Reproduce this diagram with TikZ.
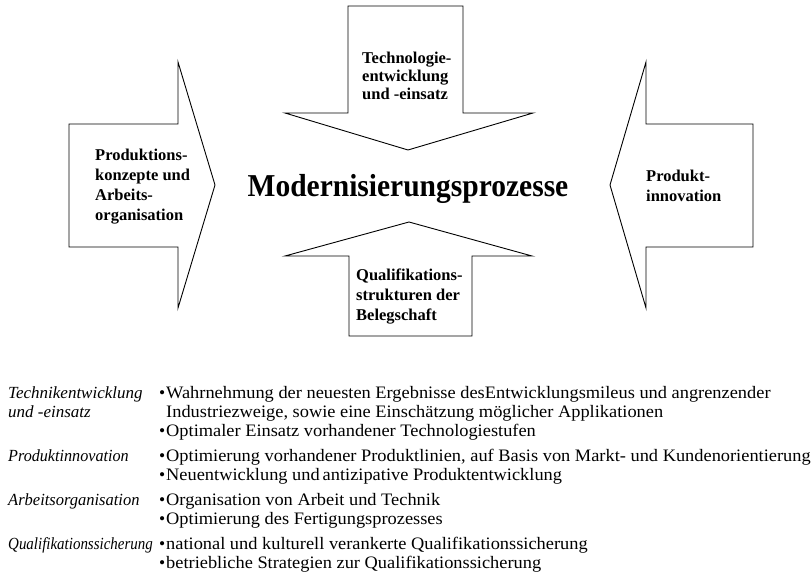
\documentclass[tikz,border=0pt]{standalone}
\usepackage{fontspec}
\usepackage{graphicx}
\setmainfont{Liberation Serif}
\newfontfamily\widserif[FakeStretch=1.05]{Liberation Serif}
\begin{document}
\begin{tikzpicture}[x=1pt,y=-1pt,
  arrowshape/.style={draw=black,line width=0.9pt,line join=miter,fill=white},
  lbl/.style={font=\fontsize{16.5}{20}\selectfont\bfseries,align=left,inner sep=0pt,anchor=base west},
  lefttxt/.style={font=\fontsize{17}{19}\selectfont\itshape,anchor=base west,inner sep=0pt},
  righttxt/.style={font=\widserif\fontsize{17.5}{19}\selectfont,anchor=base west,inner sep=0pt},
  bul/.style={font=\fontsize{17.5}{19}\selectfont,anchor=base west,inner sep=0pt}]
\useasboundingbox (0,0) rectangle (811,577);
% left arrow
\draw[arrowshape] (69,124) -- (178,124) -- (178,62) -- (215,185) -- (178,308) -- (178,247) -- (69,247) -- cycle;
% right arrow
\draw[arrowshape] (753,124) -- (646,124) -- (646,62) -- (610,185) -- (646,308) -- (646,247) -- (753,247) -- cycle;
% top arrow
\draw[arrowshape] (348,6) -- (463,6) -- (463,113) -- (533,113) -- (408,150) -- (285,113) -- (348,113) -- cycle;
% bottom arrow
\draw[arrowshape] (349,336) -- (472,336) -- (472,256) -- (532,256) -- (409,222) -- (285,256) -- (349,256) -- cycle;
% title
\node[font=\fontsize{29.5}{32}\selectfont\bfseries,anchor=base,inner sep=0pt] (title) at (408,197) {\scalebox{1}[1.08]{Modernisierungsprozesse}};
% arrow labels (anchor = baseline of last line)
\node[lbl] (lab1) at (95,221) {Produktions-\\konzepte und\\Arbeits-\\organisation};
\node[lbl] (lab2) at (646,202) {Produkt-\\innovation};
\node[lbl,font=\fontsize{16.5}{18}\selectfont\bfseries] (lab3) at (362,100) {Technologie-\\entwicklung\\und -einsatz};
\node[lbl] (lab4) at (356,320) {Qualifikations-\\strukturen der\\Belegschaft};
% bottom table
\node[lefttxt] (l1) at (8,398) {Technikentwicklung};
\node[lefttxt] (l1b) at (8,417) {und -einsatz};
\node[lefttxt] (l2) at (8,461) {\scalebox{0.95}[1]{Produktinnovation}};
\node[lefttxt] (l3) at (8,505) {\scalebox{0.97}[1]{Arbeitsorganisation}};
\node[lefttxt] (l4) at (8,549) {\scalebox{0.88}[1]{Qualifikationssicherung}};
\foreach \n/\y in {b1/398,b2/436,b3/461,b4/480,b5/505,b6/524,b7/549,b8/568}
  \node[bul] (\n) at (159,\y) {•};
\node[righttxt] (r1) at (166,398) {Wahrnehmung der neuesten Ergebnisse desEntwicklungsmileus und angrenzender};
\node[righttxt] (r1b) at (166,417) {Industriezweige, sowie eine Einschätzung möglicher Applikationen};
\node[righttxt] (r1c) at (166,436) {Optimaler Einsatz vorhandener Technologiestufen};
\node[righttxt] (r2) at (166,461) {Optimierung vorhandener Produktlinien, auf Basis von Markt- und Kundenorientierung};
\node[righttxt] (r2b) at (166,480) {Neuentwicklung und\,antizipative Produktentwicklung};
\node[righttxt] (r3) at (166,505) {Organisation von Arbeit und Technik};
\node[righttxt] (r3b) at (166,524) {Optimierung des Fertigungsprozesses};
\node[righttxt] (r4) at (166,549) {national und kulturell verankerte Qualifikationssicherung};
\node[righttxt] (r4b) at (166,568) {betriebliche Strategien zur Qualifikationssicherung};
\end{tikzpicture}
\end{document}
